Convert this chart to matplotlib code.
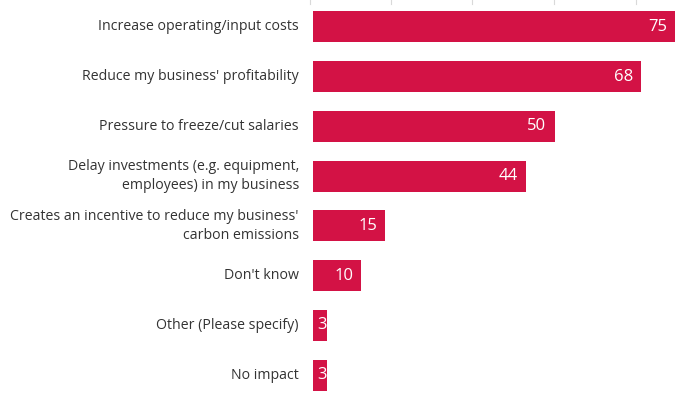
import matplotlib.pyplot as plt
from matplotlib.transforms import offset_copy

# data
categories = [
    "Increase operating/input costs",
    "Reduce my business' profitability",
    "Pressure to freeze/cut salaries",
    "Delay investments (e.g. equipment,\nemployees) in my business",
    "Creates an incentive to reduce my business'\ncarbon emissions",
    "Don't know",
    "Other (Please specify)",
    "No impact",
]
values = [75, 68, 50, 44, 15, 10, 3, 3]
bar_color = '#D31245'

plt.rcParams['font.family'] = ['Open Sans', 'DejaVu Sans']

fig = plt.figure(figsize=(6.8, 3.99), dpi=100)
ax = fig.add_axes([313 / 680, 0, 1 - 313 / 680, 1])

y = list(range(len(values)))
bars = ax.barh(y, values, height=0.62, color=bar_color)
ax.set_ylim(len(values) - 0.52, -0.54)
ax.set_xlim(0, (680 - 313) / 4.83)

for i, (bar, v) in enumerate(zip(bars, values)):
    if v >= 10:
        t = ax.text(v, i, str(v), ha='right', va='center', color='white',
                    fontsize=12, transform=offset_copy(ax.transData, fig, x=-8, y=0, units='dots'))
    else:
        t = ax.text(0, i, str(v) + '.', ha='left', va='center', color='white',
                    fontsize=12, transform=offset_copy(ax.transData, fig, x=4, y=0, units='dots'))
        t.set_clip_path(bar)

for i, c in enumerate(categories):
    ax.text(0, i, c, ha='right', va='center', color='#333333', fontsize=10.2,
            linespacing=1.35,
            transform=offset_copy(ax.transData, fig, x=-14, y=0, units='dots'))

ax.axis('off')

# faint gridline stubs at the top edge
for gx in [310, 391, 472, 554, 636]:
    fig.add_artist(plt.Line2D([gx / 680, gx / 680], [1 - 4 / 399, 1],
                              color='#d9d9d9', linewidth=0.8))

fig.savefig('out.png', dpi=100)
